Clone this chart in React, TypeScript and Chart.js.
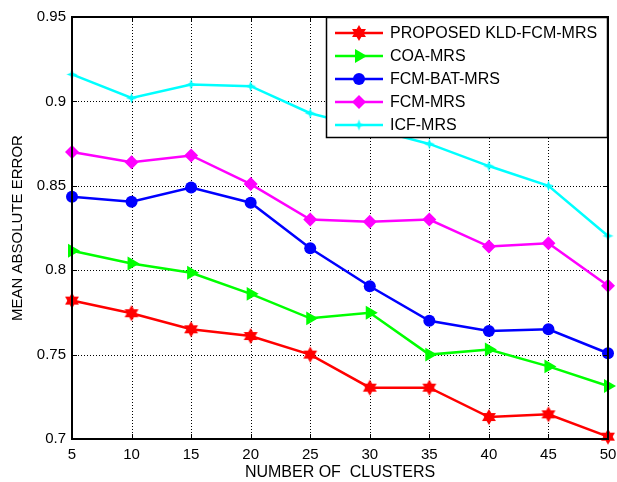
import React, { useEffect, useRef } from 'react';
import { Chart, registerables } from 'chart.js';
Chart.register(...registerables);

const clusters = [5, 10, 15, 20, 25, 30, 35, 40, 45, 50];
const proposedKldFcmMrs = [0.782, 0.7745, 0.765, 0.761, 0.75, 0.7304, 0.7304, 0.713, 0.7146, 0.7014];
const coaMrs = [0.8115, 0.804, 0.7985, 0.786, 0.7715, 0.7748, 0.75, 0.753, 0.743, 0.7314];
const fcmBatMrs = [0.8435, 0.8406, 0.849, 0.84, 0.813, 0.7905, 0.77, 0.764, 0.765, 0.7508];
const fcmMrs = [0.87, 0.864, 0.868, 0.851, 0.83, 0.8287, 0.83, 0.814, 0.816, 0.7908];
const icfMrs = [0.916, 0.902, 0.91, 0.909, 0.893, 0.884, 0.8748, 0.8617, 0.85, 0.8203];
const yTickValues = [0.7, 0.75, 0.8, 0.85, 0.9, 0.95];
const seriesNames = ['PROPOSED KLD-FCM-MRS', 'COA-MRS', 'FCM-BAT-MRS', 'FCM-MRS', 'ICF-MRS'];
const seriesColors = ['#ff0000', '#00ff00', '#0000ff', '#ff00ff', '#00ffff'];
const xTitle = 'NUMBER OF  CLUSTERS';
const yTitle = 'MEAN ABSOLUTE ERROR';

const FONT = "'Liberation Sans', Arial, sans-serif";

function makeHexagram(color: string, r: number) {
  const c = document.createElement('canvas');
  const s = Math.ceil(r * 2 + 2);
  c.width = s; c.height = s;
  const ctx = c.getContext('2d')!;
  const cx = s / 2, cy = s / 2;
  ctx.fillStyle = color;
  for (let t = 0; t < 2; t++) {
    ctx.beginPath();
    for (let i = 0; i < 3; i++) {
      const a = -Math.PI / 2 + t * Math.PI + (i * 2 * Math.PI) / 3;
      const x = cx + r * Math.cos(a), y = cy + r * Math.sin(a);
      if (i === 0) ctx.moveTo(x, y); else ctx.lineTo(x, y);
    }
    ctx.closePath();
    ctx.fill();
  }
  return c;
}

function make4Star(color: string, r: number, ri: number) {
  const c = document.createElement('canvas');
  const s = Math.ceil(r * 2 + 2);
  c.width = s; c.height = s;
  const ctx = c.getContext('2d')!;
  const cx = s / 2, cy = s / 2;
  ctx.fillStyle = color;
  ctx.beginPath();
  for (let i = 0; i < 8; i++) {
    const a = -Math.PI / 2 + (i * Math.PI) / 4;
    const rr = i % 2 === 0 ? r : ri;
    const x = cx + rr * Math.cos(a), y = cy + rr * Math.sin(a);
    if (i === 0) ctx.moveTo(x, y); else ctx.lineTo(x, y);
  }
  ctx.closePath();
  ctx.fill();
  return c;
}

const fmt = (v: number) => String(Number(v.toFixed(3)));

function drawMarker(ctx: CanvasRenderingContext2D, ds: any, x: number, y: number) {
  const st = ds.pointStyle;
  const r = ds.pointRadius;
  ctx.save();
  ctx.fillStyle = ds.pointBackgroundColor;
  if (typeof st !== 'string') {
    ctx.drawImage(st, x - st.width / 2, y - st.height / 2);
  } else if (st === 'circle') {
    ctx.beginPath(); ctx.arc(x, y, r, 0, Math.PI * 2); ctx.fill();
  } else if (st === 'rectRot') {
    ctx.beginPath();
    ctx.moveTo(x, y - r); ctx.lineTo(x + r, y); ctx.lineTo(x, y + r); ctx.lineTo(x - r, y);
    ctx.closePath(); ctx.fill();
  } else if (st === 'triangle') {
    ctx.beginPath();
    let a = (ds.pointRotation * Math.PI) / 180;
    for (let k = 0; k < 3; k++) {
      const px = x + Math.sin(a) * r, py = y - Math.cos(a) * r;
      if (k === 0) ctx.moveTo(px, py); else ctx.lineTo(px, py);
      a += (2 * Math.PI) / 3;
    }
    ctx.closePath(); ctx.fill();
  }
  ctx.restore();
}

export default function App() {
  const ref = useRef<HTMLCanvasElement>(null);
  useEffect(() => {
    document.body.style.margin = '0';
    const hex = makeHexagram(seriesColors[0], 8);
    const star4 = make4Star(seriesColors[4], 5.5, 2);
    const values = [proposedKldFcmMrs, coaMrs, fcmBatMrs, fcmMrs, icfMrs];
    const styles: any[] = [hex, 'triangle', 'circle', 'rectRot', star4];
    const radii = [7, 8, 6, 7, 5];
    const rotations = [0, 90, 0, 0, 0];
    const datasets = values.map((vals, i) => ({
      label: seriesNames[i],
      data: clusters.map((x, j) => ({ x, y: vals[j] })),
      borderColor: seriesColors[i],
      backgroundColor: seriesColors[i],
      pointBackgroundColor: seriesColors[i],
      pointBorderColor: seriesColors[i],
      borderWidth: 2.5,
      pointStyle: styles[i],
      pointRadius: radii[i],
      pointBorderWidth: 0,
      pointRotation: rotations[i],
      tension: 0,
      clip: false as any,
      order: 5 - i,
    }));

    const gridPlugin = {
      id: 'gridPlugin',
      beforeDatasetsDraw(chart: any) {
        const ctx = chart.ctx;
        const { left, right, top, bottom } = chart.chartArea;
        const xs = chart.scales.x, ys = chart.scales.y;
        ctx.save();
        ctx.strokeStyle = '#000';
        ctx.lineWidth = 1;
        ctx.setLineDash([1, 2]);
        ctx.beginPath();
        clusters.forEach((v) => {
          const px = Math.round(xs.getPixelForValue(v)) + 0.5;
          ctx.moveTo(px, bottom); ctx.lineTo(px, top);
        });
        yTickValues.forEach((v) => {
          const py = Math.round(ys.getPixelForValue(v)) + 0.5;
          ctx.moveTo(left, py); ctx.lineTo(right, py);
        });
        ctx.stroke();
        ctx.restore();
      },
    };

    const boxPlugin = {
      id: 'boxPlugin',
      afterDatasetsDraw(chart: any) {
        const ctx = chart.ctx;
        const { left, right, top, bottom } = chart.chartArea;
        const xs = chart.scales.x, ys = chart.scales.y;
        ctx.save();
        ctx.strokeStyle = '#000';
        ctx.lineWidth = 1;
        ctx.beginPath();
        const tl = 5;
        clusters.forEach((v) => {
          const px = Math.round(xs.getPixelForValue(v)) + 0.5;
          ctx.moveTo(px, bottom); ctx.lineTo(px, bottom - tl);
          ctx.moveTo(px, top); ctx.lineTo(px, top + tl);
        });
        yTickValues.forEach((v) => {
          const py = Math.round(ys.getPixelForValue(v)) + 0.5;
          ctx.moveTo(left, py); ctx.lineTo(left + tl, py);
          ctx.moveTo(right, py); ctx.lineTo(right - tl, py);
        });
        ctx.stroke();
        ctx.lineWidth = 2;
        ctx.strokeRect(left, top, right - left, bottom - top);

        // legend
        const lx = 326, ly = 17, lw = 281, lh = 120;
        ctx.fillStyle = '#fff';
        ctx.fillRect(lx, ly, lw, lh);
        ctx.lineWidth = 1.5;
        ctx.strokeStyle = '#000';
        ctx.strokeRect(lx + 0.5, ly + 0.5, lw, lh);
        ctx.font = '16px ' + FONT;
        ctx.textBaseline = 'middle';
        ctx.textAlign = 'left';
        const rowY = [33, 56, 79, 102, 125];
        chart.data.datasets.forEach((ds: any, i: number) => {
          const y = rowY[i];
          ctx.strokeStyle = ds.borderColor;
          ctx.lineWidth = 2.5;
          ctx.beginPath();
          ctx.moveTo(335, y); ctx.lineTo(383, y);
          ctx.stroke();
          drawMarker(ctx, ds, 359, y);
          ctx.fillStyle = '#000';
          ctx.fillText(ds.label, 390, y + 1);
        });
        ctx.restore();
      },
    };

    const chart = new Chart(ref.current!, {
      type: 'line',
      data: { datasets: datasets as any },
      options: {
        animation: false,
        responsive: false,
        devicePixelRatio: 1,
        layout: { padding: { top: 17, right: 9, left: 0, bottom: 0 } },
        plugins: { legend: { display: false }, tooltip: { enabled: false } },
        scales: {
          x: {
            type: 'linear',
            min: 5,
            max: 50,
            afterFit: (s: any) => { s.height = 43; s.paddingLeft = 0; s.paddingRight = 9; },
            afterBuildTicks: (s: any) => { s.ticks = clusters.map((v) => ({ value: v })); },
            ticks: { color: '#000', font: { family: FONT, size: 15 }, padding: 7, maxRotation: 0, callback: (v: any) => fmt(Number(v)) },
            grid: { display: false, drawTicks: false },
            border: { display: false },
            title: { display: true, text: xTitle, color: '#000', font: { family: FONT, size: 16 }, padding: { top: 0, bottom: 0 } },
          },
          y: {
            type: 'linear',
            min: 0.7,
            max: 0.95,
            afterFit: (s: any) => { s.width = 72; s.paddingTop = 0; s.paddingBottom = 0; },
            afterBuildTicks: (s: any) => { s.ticks = yTickValues.map((v) => ({ value: v })); },
            ticks: { color: '#000', font: { family: FONT, size: 15 }, padding: 6, callback: (v: any) => fmt(Number(v)) },
            grid: { display: false, drawTicks: false },
            border: { display: false },
            title: { display: true, text: yTitle, color: '#000', font: { family: FONT, size: 15 }, padding: { top: 9, bottom: 0 } },
          },
        },
      },
      plugins: [gridPlugin, boxPlugin],
    });
    return () => chart.destroy();
  }, []);
  return (
    <div style={{ position: 'absolute', left: 0, top: 0, width: 617, height: 482, background: '#fff' }}>
      <canvas ref={ref} width={617} height={482} />
    </div>
  );
}
